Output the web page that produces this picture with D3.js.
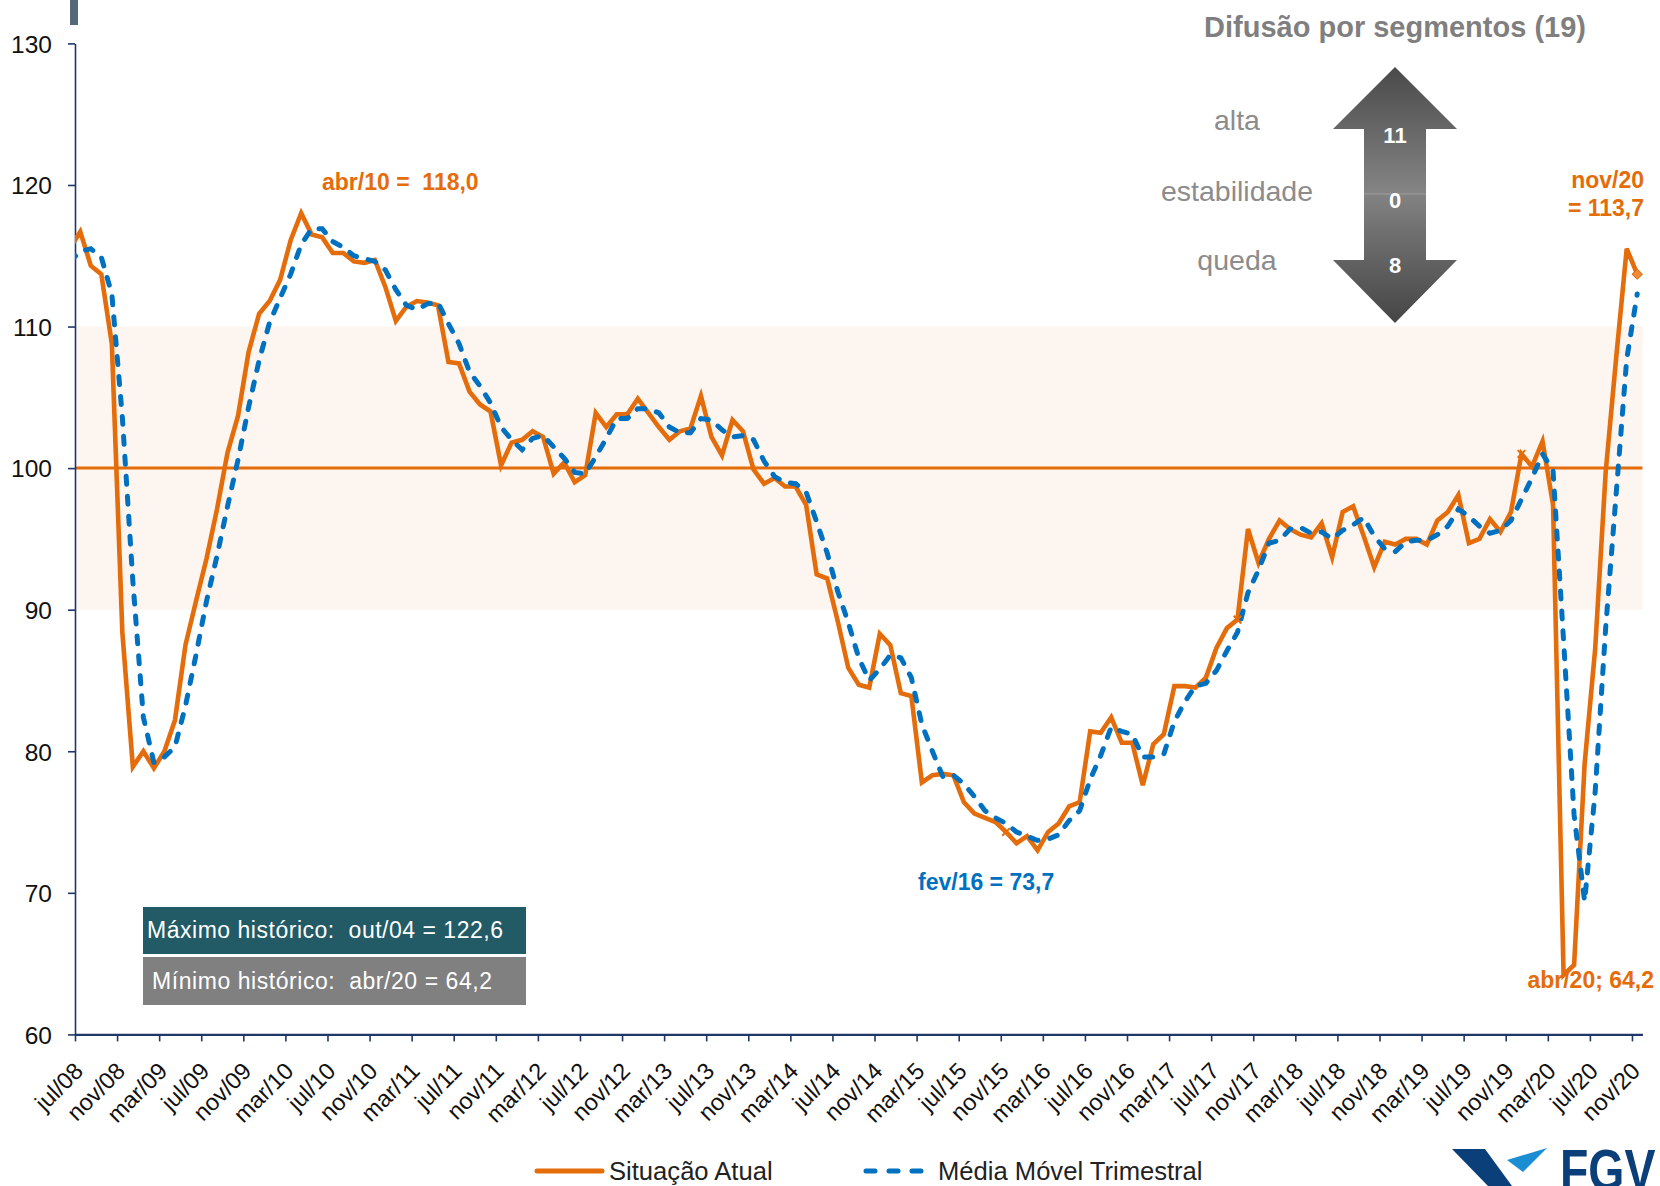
<!DOCTYPE html>
<html>
<head>
<meta charset="utf-8">
<style>
  body { margin: 0; background: #fff; font-family: "Liberation Sans", Arial, Helvetica, sans-serif; }
  svg { display: block; }
  text { white-space: pre; }
  .axis path, .axis line { stroke: #1f3768; }
  .axis text { fill: #111; font-family: "Liberation Sans", Arial, sans-serif; }
  .y-axis text { font-size: 24.5px; }
  .x-axis text { font-size: 23.5px; }
  .note { font-weight: bold; font-size: 23px; }
  .orange { fill: #e46c0a; }
  .blue { fill: #0070c0; }
  .box-text { fill: #fff; font-size: 23px; }
  .diff-label { fill: #8c8c8c; font-size: 28.5px; text-anchor: middle; }
  .arrow-num { fill: #fff; font-size: 22px; font-weight: bold; text-anchor: middle; }
  .legend-text { fill: #222; font-size: 25.6px; }
</style>
</head>
<body>
<script src="https://d3js.org/d3.v7.min.js"></script>
<script>
// tick labels, one every 4 months
const tickLabels = ['jul/08','nov/08','mar/09','jul/09','nov/09','mar/10','jul/10','nov/10','mar/11','jul/11',
  'nov/11','mar/12','jul/12','nov/12','mar/13','jul/13','nov/13','mar/14','jul/14','nov/14','mar/15','jul/15',
  'nov/15','mar/16','jul/16','nov/16','mar/17','jul/17','nov/17','mar/18','jul/18','nov/18','mar/19','jul/19',
  'nov/19','mar/20','jul/20','nov/20'];
const yTicks = [60, 70, 80, 90, 100, 110, 120, 130];

// monthly values, first one is jun/08 (clipped by the axis), then jul/08 .. nov/20
const situacaoAtual = [115.5,
  116.7, 114.3, 113.7, 108.8, 88.4, 78.9,
  80.0, 78.8, 80.0, 82.2, 87.5, 90.6, 93.6, 97.1, 101.1, 103.7, 108.2, 110.9,
  111.8, 113.3, 116.1, 118.0, 116.5, 116.3, 115.2, 115.2, 114.6, 114.5, 114.7, 112.8,
  110.4, 111.4, 111.8, 111.7, 111.5, 107.5, 107.4, 105.4, 104.5, 104.0, 100.2, 101.8,
  102.0, 102.6, 102.2, 99.6, 100.4, 99.0, 99.5, 103.9, 102.9, 103.8, 103.8, 104.9,
  103.9, 102.9, 102.0, 102.6, 102.8, 105.1, 102.2, 100.9, 103.4, 102.6, 99.9, 98.9,
  99.3, 98.7, 98.7, 97.4, 92.5, 92.2, 89.2, 85.9, 84.7, 84.5, 88.3, 87.5,
  84.1, 83.9, 77.8, 78.3, 78.4, 78.3, 76.4, 75.6, 75.3, 75.0, 74.3, 73.5,
  74.0, 73.0, 74.3, 74.9, 76.1, 76.4, 81.4, 81.3, 82.4, 80.6, 80.6, 77.6,
  80.5, 81.2, 84.6, 84.6, 84.5, 85.2, 87.3, 88.7, 89.3, 95.7, 93.3, 95.0,
  96.3, 95.7, 95.3, 95.1, 96.1, 93.7, 96.9, 97.3, 95.2, 93.0, 94.8, 94.6,
  95.0, 95.0, 94.6, 96.3, 96.9, 98.1, 94.7, 95.0, 96.4, 95.5, 96.9, 101.0,
  100.1, 101.9, 97.4, 64.2, 64.9, 79.1, 87.2, 99.7, 107.8, 115.5, 113.7];

const mediaMovel = [114.6,
  115.3, 115.5, 114.9, 112.3, 103.6, 92.0,
  82.4, 79.2, 79.6, 80.3, 83.2, 86.8, 90.6, 93.8, 97.3, 100.6, 104.3, 107.6,
  110.3, 112.0, 113.7, 115.8, 116.9, 116.9, 116.0, 115.6, 115.0, 114.8, 114.6, 114.0,
  112.6, 111.5, 111.2, 111.6, 111.7, 110.2, 108.8, 106.8, 105.8, 104.6, 102.9, 102.0,
  101.3, 102.1, 102.3, 101.5, 100.7, 99.7, 99.6, 100.8, 102.1, 103.5, 103.5, 104.2,
  104.2, 103.9, 102.9, 102.5, 102.5, 103.5, 103.4, 102.7, 102.2, 102.3, 102.0, 100.5,
  99.4, 99.0, 98.9, 98.3, 96.2, 94.0, 91.3, 89.1, 86.6, 85.0, 85.8, 86.8,
  86.6, 85.2, 81.9, 80.0, 78.2, 78.3, 77.7, 76.8, 75.8, 75.3, 74.9, 74.3,
  74.0, 73.7, 73.8, 74.1, 75.1, 75.8, 78.0, 79.7, 81.7, 81.4, 81.2, 79.6,
  79.6, 79.8, 82.1, 83.5, 84.6, 84.8, 85.7, 87.1, 88.4, 91.2, 92.8, 94.7,
  94.9, 95.7, 95.8, 95.4, 95.5, 95.0, 95.6, 96.0, 96.5, 95.2, 94.3, 94.1,
  94.8, 94.9, 94.9, 95.3, 95.9, 97.1, 96.6, 95.9, 95.4, 95.6, 96.3, 97.8,
  99.3, 101.0, 99.8, 87.8, 75.5, 69.4, 77.1, 88.7, 98.2, 107.7, 112.3];

// array positions that carry a small marker on the orange line (nov/15, set/17, dez/19)
const markedMonths = [89, 111, 138];

const nMonths = 149;      // jul/08 .. nov/20
const bandRange = [90, 110];
const difusao = [{ label: 'alta', n: 11 }, { label: 'estabilidade', n: 0 }, { label: 'queda', n: 8 }];

const W = 1660, H = 1186;
const plotLeft = 75, step = 10.52, plotTop = 43.4, plotBottom = 1034.4;

const svg = d3.select('body').append('svg')
  .attr('width', W).attr('height', H);

const x = d3.scaleLinear().domain([0, nMonths]).range([plotLeft, plotLeft + nMonths * step]);
const y = d3.scaleLinear().domain([60, 130]).range([plotBottom, plotTop]);

// month j of the arrays sits in the middle of its slot
const px = (d, j) => x(j - 0.5);

// small slate bar at top left
svg.append('rect').attr('x', 70).attr('y', 0).attr('width', 8).attr('height', 25).attr('fill', '#53697a');

// neutral band 90-110
svg.append('rect')
  .attr('x', x(0)).attr('width', x(nMonths) - x(0))
  .attr('y', y(bandRange[1])).attr('height', y(bandRange[0]) - y(bandRange[1]))
  .attr('fill', '#fdf5ef');

// reference line at 100
svg.append('line')
  .attr('x1', x(0)).attr('x2', x(nMonths))
  .attr('y1', y(100)).attr('y2', y(100))
  .attr('stroke', '#e46c0a').attr('stroke-width', 3);

// axes
const yAxis = d3.axisLeft(y).tickValues(yTicks).tickSize(7).tickSizeOuter(0).tickPadding(16);
svg.append('g').attr('class', 'axis y-axis')
  .attr('transform', `translate(${x(0)},0)`)
  .call(yAxis)
  .call(g => g.select('.domain').attr('stroke-width', 1.6))
  .call(g => g.selectAll('line').attr('stroke-width', 1.6))
  .call(g => g.selectAll('text').attr('dy', '0.36em'));

const xAxis = d3.axisBottom(x)
  .tickValues(d3.range(0, nMonths, 4))
  .tickFormat(d => tickLabels[d / 4])
  .tickSize(7).tickSizeOuter(0);
svg.append('g').attr('class', 'axis x-axis')
  .attr('transform', `translate(0,${y(60)})`)
  .call(xAxis)
  .call(g => g.select('.domain').attr('stroke-width', 2.4))
  .call(g => g.selectAll('line').attr('stroke-width', 1.6))
  .call(g => g.selectAll('text')
    .attr('x', 0).attr('y', 0).attr('dy', 0)
    .attr('text-anchor', 'end')
    .attr('transform', 'translate(9,38) rotate(-45)'));

// series
svg.append('clipPath').attr('id', 'plot-clip')
  .append('rect').attr('x', x(0)).attr('y', 0).attr('width', x(nMonths) - x(0) + 4).attr('height', y(60));

const line = d3.line().x(px).y(d => y(d));

const plot = svg.append('g').attr('clip-path', 'url(#plot-clip)');
plot.append('path').datum(situacaoAtual)
  .attr('d', line)
  .attr('fill', 'none').attr('stroke', '#e46c0a').attr('stroke-width', 4.6);
plot.append('path').datum(mediaMovel)
  .attr('d', line)
  .attr('fill', 'none').attr('stroke', '#0070c0').attr('stroke-width', 5)
  .attr('stroke-dasharray', '8,12').attr('stroke-linecap', 'round');

// small markers on the orange line
svg.selectAll('.mark').data(markedMonths).join('path')
  .attr('class', 'mark')
  .attr('d', d3.symbol(d3.symbolTimes, 40)())
  .attr('transform', j => `translate(${x(j - 0.5)},${y(situacaoAtual[j])})`)
  .attr('fill', 'none').attr('stroke', '#e46c0a').attr('stroke-width', 2);

// last point marker
const lastJ = situacaoAtual.length - 1;
svg.append('path')
  .attr('d', d3.symbol(d3.symbolSquare, 50)())
  .attr('transform', `translate(${px(0, lastJ)},${y(situacaoAtual[lastJ])}) rotate(45)`)
  .attr('fill', '#f08a3c').attr('stroke', '#e46c0a').attr('stroke-width', 1);

// annotations
svg.append('text').attr('class', 'note orange').attr('x', 322).attr('y', 190).text('abr/10 =  118,0');
svg.append('text').attr('class', 'note orange').attr('x', 1644).attr('y', 188)
  .attr('text-anchor', 'end').text('nov/20');
svg.append('text').attr('class', 'note orange').attr('x', 1644).attr('y', 216)
  .attr('text-anchor', 'end').text('= 113,7');
svg.append('text').attr('class', 'note orange').attr('x', 1654).attr('y', 988)
  .attr('text-anchor', 'end').text('abr/20; 64,2');
svg.append('text').attr('class', 'note blue').attr('x', 918).attr('y', 890).text('fev/16 = 73,7');

// historical boxes
svg.append('rect').attr('x', 143).attr('y', 907).attr('width', 383).attr('height', 47).attr('fill', '#225a66');
svg.append('text').attr('class', 'box-text').attr('x', 147).attr('y', 938)
  .attr('textLength', 356).attr('lengthAdjust', 'spacing')
  .text('Máximo histórico:  out/04 = 122,6');
svg.append('rect').attr('x', 143).attr('y', 957).attr('width', 383).attr('height', 48).attr('fill', '#808080');
svg.append('text').attr('class', 'box-text').attr('x', 152).attr('y', 989)
  .attr('textLength', 340).attr('lengthAdjust', 'spacing')
  .text('Mínimo histórico:  abr/20 = 64,2');

// diffusion panel
svg.append('text').attr('x', 1395).attr('y', 37)
  .attr('text-anchor', 'middle').attr('font-weight', 'bold').attr('font-size', 29).attr('fill', '#7f7f7f')
  .text('Difusão por segmentos (19)');

const defs = svg.append('defs');
const gUp = defs.append('linearGradient').attr('id', 'g-up')
  .attr('gradientUnits', 'userSpaceOnUse').attr('x1', 0).attr('x2', 0).attr('y1', 67).attr('y2', 194);
gUp.append('stop').attr('offset', 0).attr('stop-color', '#4a4a4a');
gUp.append('stop').attr('offset', 1).attr('stop-color', '#858585');
const gDown = defs.append('linearGradient').attr('id', 'g-down')
  .attr('gradientUnits', 'userSpaceOnUse').attr('x1', 0).attr('x2', 0).attr('y1', 194).attr('y2', 323);
gDown.append('stop').attr('offset', 0).attr('stop-color', '#828282');
gDown.append('stop').attr('offset', 1).attr('stop-color', '#454545');

const ax = 1395, headW = 62, shaftW = 31;
svg.append('path').attr('fill', 'url(#g-up)')
  .attr('d', `M${ax},67 L${ax + headW},129 L${ax + shaftW},129 L${ax + shaftW},194 L${ax - shaftW},194 L${ax - shaftW},129 L${ax - headW},129 Z`);
svg.append('path').attr('fill', 'url(#g-down)')
  .attr('d', `M${ax - shaftW},194 L${ax + shaftW},194 L${ax + shaftW},260 L${ax + headW},260 L${ax},323 L${ax - headW},260 L${ax - shaftW},260 Z`);
svg.append('line').attr('x1', ax - shaftW).attr('x2', ax + shaftW).attr('y1', 194).attr('y2', 194)
  .attr('stroke', '#9c9c9c').attr('stroke-width', 1);

const rowY = [130, 201, 270];
const numY = [143, 208, 273];
svg.selectAll('.diff-label').data(difusao).join('text')
  .attr('class', 'diff-label').attr('x', 1237).attr('y', (d, i) => rowY[i]).text(d => d.label);
svg.selectAll('.arrow-num').data(difusao).join('text')
  .attr('class', 'arrow-num').attr('x', ax).attr('y', (d, i) => numY[i]).text(d => d.n);

// legend
const lg = svg.append('g');
lg.append('line').attr('x1', 537).attr('x2', 602).attr('y1', 1171).attr('y2', 1171)
  .attr('stroke', '#e46c0a').attr('stroke-width', 5).attr('stroke-linecap', 'round');
lg.append('text').attr('class', 'legend-text').attr('x', 609).attr('y', 1180).text('Situação Atual');
lg.append('line').attr('x1', 866).attr('x2', 930).attr('y1', 1171).attr('y2', 1171)
  .attr('stroke', '#0070c0').attr('stroke-width', 5).attr('stroke-linecap', 'round')
  .attr('stroke-dasharray', '9,14');
lg.append('text').attr('class', 'legend-text').attr('x', 938).attr('y', 1180).text('Média Móvel Trimestral');

// FGV logo (bottom right, cut by the frame)
const logo = svg.append('g');
logo.append('path').attr('fill', '#0b3f7a')
  .attr('d', 'M1452,1149 L1485,1149 L1512,1186 L1488,1186 Z');
logo.append('path').attr('fill', '#1b8dd2')
  .attr('d', 'M1507,1160 L1547,1148 L1523,1172 Z');
logo.append('text').attr('x', 0).attr('y', 0)
  .attr('transform', 'translate(1560,1190) scale(0.8,1)')
  .attr('font-weight', 'bold').attr('font-size', 58).attr('fill', '#0b3f7a')
  .text('FGV');
</script>
</body>
</html>
